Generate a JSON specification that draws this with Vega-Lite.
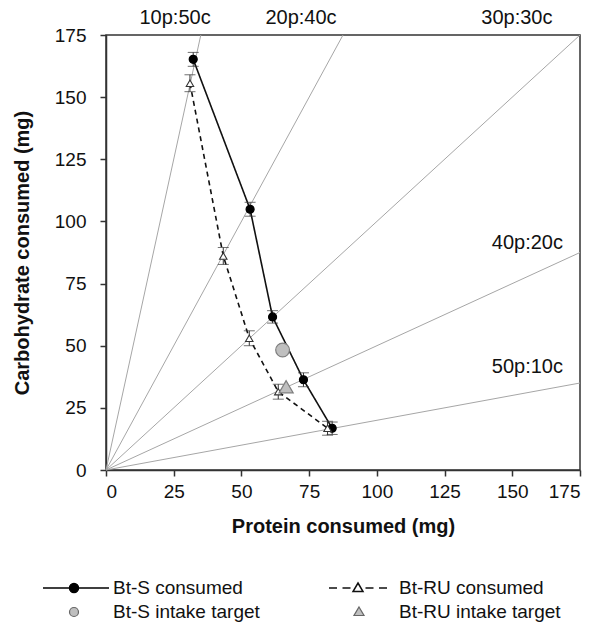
{
  "$schema": "https://vega.github.io/schema/vega-lite/v6.json",
  "width": 474,
  "height": 435,
  "autosize": {"type": "none"},
  "padding": {"left": 106, "top": 35, "right": 20, "bottom": 159},
  "background": "white",
  "config": {
    "font": "Liberation Sans",
    "view": {"stroke": "#333333", "strokeWidth": 1.5},
    "axis": {
      "grid": false,
      "domainColor": "#333333",
      "domainWidth": 1.5,
      "tickColor": "#333333",
      "tickWidth": 1.5,
      "tickSize": 6,
      "labelFont": "Liberation Sans",
      "labelFontSize": 19,
      "labelColor": "#111111",
      "titleFont": "Liberation Sans",
      "titleFontSize": 20,
      "titleFontWeight": "bold",
      "titleColor": "#111111"
    },
    "legend": {
      "orient": "none",
      "labelFont": "Liberation Sans",
      "labelFontSize": 19,
      "labelColor": "#111111",
      "labelOffset": 49,
      "labelLimit": 300,
      "symbolSize": 400,
      "symbolStrokeWidth": 1.5,
      "symbolOpacity": 1
    }
  },
  "resolve": {"scale": {"color": "independent"}, "legend": {"color": "independent"}},
  "datasets": {
    "rays": [
      {"ray": "10p:50c", "protein": 0, "carb": 0},
      {"ray": "10p:50c", "protein": 35, "carb": 175},
      {"ray": "20p:40c", "protein": 0, "carb": 0},
      {"ray": "20p:40c", "protein": 87.5, "carb": 175},
      {"ray": "30p:30c", "protein": 0, "carb": 0},
      {"ray": "30p:30c", "protein": 175, "carb": 175},
      {"ray": "40p:20c", "protein": 0, "carb": 0},
      {"ray": "40p:20c", "protein": 175, "carb": 87.5},
      {"ray": "50p:10c", "protein": 0, "carb": 0},
      {"ray": "50p:10c", "protein": 175, "carb": 35}
    ],
    "consumed": [
      {"series": "Bt-S consumed", "protein": 32.2, "carb": 165.2, "carb_lo": 162.4, "carb_hi": 168.0},
      {"series": "Bt-S consumed", "protein": 53.2, "carb": 104.9, "carb_lo": 102.1, "carb_hi": 107.7},
      {"series": "Bt-S consumed", "protein": 61.5, "carb": 61.6, "carb_lo": 59.1, "carb_hi": 64.1},
      {"series": "Bt-S consumed", "protein": 72.9, "carb": 36.3, "carb_lo": 33.5, "carb_hi": 39.1},
      {"series": "Bt-S consumed", "protein": 83.5, "carb": 16.8, "carb_lo": 14.3, "carb_hi": 19.3},
      {"series": "Bt-RU consumed", "protein": 31.0, "carb": 155.6, "carb_lo": 152.2, "carb_hi": 159.0},
      {"series": "Bt-RU consumed", "protein": 43.3, "carb": 86.1, "carb_lo": 82.7, "carb_hi": 89.5},
      {"series": "Bt-RU consumed", "protein": 52.9, "carb": 53.0, "carb_lo": 50.0, "carb_hi": 56.0},
      {"series": "Bt-RU consumed", "protein": 63.6, "carb": 31.5, "carb_lo": 28.5, "carb_hi": 34.5},
      {"series": "Bt-RU consumed", "protein": 81.8, "carb": 16.8, "carb_lo": 14.0, "carb_hi": 19.6}
    ],
    "targets": [
      {"series": "Bt-S intake target", "protein": 65.2, "carb": 48.3},
      {"series": "Bt-RU intake target", "protein": 66.5, "carb": 33.5}
    ],
    "topLabels": [
      {"label": "10p:50c", "protein": 25.5, "carb": 181.8},
      {"label": "20p:40c", "protein": 72, "carb": 181.8},
      {"label": "30p:30c", "protein": 151.7, "carb": 181.8}
    ],
    "sideLabels": [
      {"label": "40p:20c", "protein": 168.7, "carb": 91.3},
      {"label": "50p:10c", "protein": 168.7, "carb": 41.4}
    ]
  },
  "encoding": {
    "x": {
      "field": "protein",
      "type": "quantitative",
      "scale": {"domain": [0, 175], "nice": false},
      "axis": {"title": "Protein consumed (mg)", "values": [0, 25, 50, 75, 100, 125, 150, 175], "labelPadding": 6, "titlePadding": 15}
    },
    "y": {
      "field": "carb",
      "type": "quantitative",
      "scale": {"domain": [0, 175], "nice": false},
      "axis": {"title": "Carbohydrate consumed (mg)", "values": [0, 25, 50, 75, 100, 125, 150, 175], "labelPadding": 14, "titlePadding": 22}
    }
  },
  "layer": [
    {
      "data": {"name": "rays"},
      "mark": {"type": "line", "color": "#a6a6a6", "strokeWidth": 1},
      "encoding": {"detail": {"field": "ray"}}
    },
    {
      "data": {"name": "consumed"},
      "mark": {"type": "line", "color": "#111111", "strokeWidth": 1.6},
      "encoding": {
        "detail": {"field": "series"},
        "strokeDash": {
          "field": "series",
          "type": "nominal",
          "scale": {"domain": ["Bt-S consumed", "Bt-RU consumed"], "range": [[1, 0], [5, 4]]},
          "legend": null
        }
      }
    },
    {
      "data": {"name": "consumed"},
      "mark": {"type": "rule", "color": "#333333", "strokeWidth": 1},
      "encoding": {
        "y": {"field": "carb_lo", "type": "quantitative"},
        "y2": {"field": "carb_hi"}
      }
    },
    {
      "data": {"name": "consumed"},
      "mark": {"type": "tick", "orient": "horizontal", "color": "#333333", "size": 11, "thickness": 1},
      "encoding": {"y": {"field": "carb_lo", "type": "quantitative"}}
    },
    {
      "data": {"name": "consumed"},
      "mark": {"type": "tick", "orient": "horizontal", "color": "#333333", "size": 11, "thickness": 1},
      "encoding": {"y": {"field": "carb_hi", "type": "quantitative"}}
    },
    {
      "data": {"name": "consumed"},
      "transform": [{"filter": "datum.series === 'Bt-S consumed'"}],
      "mark": {"type": "point", "filled": true, "shape": "circle", "size": 64, "stroke": "#000000", "strokeWidth": 1.2, "opacity": 1},
      "encoding": {
        "color": {
          "field": "series",
          "type": "nominal",
          "scale": {"range": ["#000000"]},
          "legend": {
            "title": null,
            "legendX": -64,
            "legendY": 542,
            "symbolType": "M-1,0H5.6M1.65,0A0.45,0.45 0 1,1 2.55,0A0.45,0.45 0 1,1 1.65,0Z",
            "symbolStrokeColor": "#000000"
          }
        }
      }
    },
    {
      "data": {"name": "consumed"},
      "transform": [{"filter": "datum.series === 'Bt-RU consumed'"}],
      "mark": {"type": "point", "filled": true, "shape": "triangle-up", "size": 55, "stroke": "#333333", "strokeWidth": 1.1, "opacity": 1},
      "encoding": {
        "color": {
          "field": "series",
          "type": "nominal",
          "scale": {"range": ["#ffffff"]},
          "legend": {
            "title": null,
            "legendX": 222,
            "legendY": 542,
            "symbolType": "M-1,0H-0.2M0.35,0H1.15M2.65,0H3.45M4,0H4.8M1.9,-0.5L2.4,0.35L1.4,0.35Z",
            "symbolStrokeColor": "#111111",
            "symbolStrokeWidth": 1.5
          }
        }
      }
    },
    {
      "data": {"name": "targets"},
      "transform": [{"filter": "datum.series === 'Bt-S intake target'"}],
      "mark": {"type": "point", "filled": true, "shape": "circle", "size": 190, "stroke": "#7f7f7f", "strokeWidth": 1.2, "opacity": 1},
      "encoding": {
        "color": {
          "field": "series",
          "type": "nominal",
          "scale": {"range": ["#bfbfbf"]},
          "legend": {
            "title": null,
            "legendX": -64,
            "legendY": 566,
            "symbolType": "M1.65,0A0.45,0.45 0 1,1 2.55,0A0.45,0.45 0 1,1 1.65,0Z",
            "symbolStrokeColor": "#666666",
            "symbolStrokeWidth": 1.2
          }
        }
      }
    },
    {
      "data": {"name": "targets"},
      "transform": [{"filter": "datum.series === 'Bt-RU intake target'"}],
      "mark": {"type": "point", "filled": true, "shape": "triangle-up", "size": 200, "stroke": "#7f7f7f", "strokeWidth": 1.2, "opacity": 1},
      "encoding": {
        "color": {
          "field": "series",
          "type": "nominal",
          "scale": {"range": ["#bfbfbf"]},
          "legend": {
            "title": null,
            "legendX": 222,
            "legendY": 566,
            "symbolType": "M2,-0.5L2.5,0.35L1.5,0.35Z",
            "symbolStrokeColor": "#666666",
            "symbolStrokeWidth": 1.2
          }
        }
      }
    },
    {
      "data": {"name": "topLabels"},
      "mark": {"type": "text", "fontSize": 20, "font": "Liberation Sans", "color": "#111111", "align": "center", "baseline": "middle"},
      "encoding": {"text": {"field": "label"}}
    },
    {
      "data": {"name": "sideLabels"},
      "mark": {"type": "text", "fontSize": 20, "font": "Liberation Sans", "color": "#111111", "align": "right", "baseline": "middle"},
      "encoding": {"text": {"field": "label"}}
    }
  ]
}
